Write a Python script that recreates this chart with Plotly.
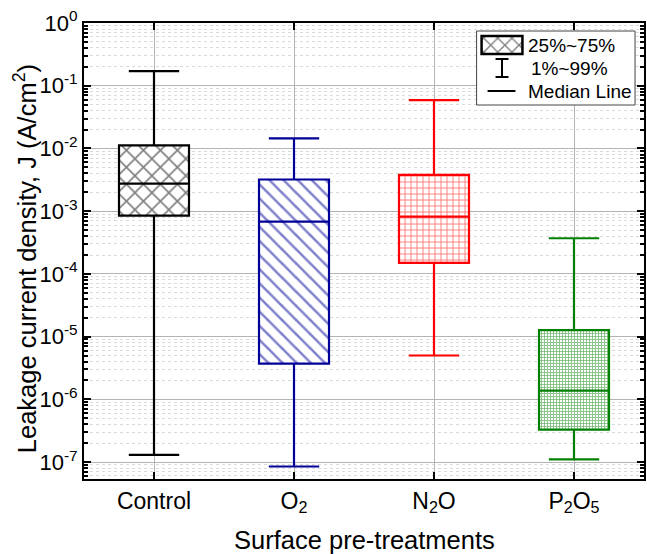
import plotly.graph_objects as go

# ---- data ----
categories = ["Control", "O<sub>2</sub>", "N<sub>2</sub>O", "P<sub>2</sub>O<sub>5</sub>"]
p01 = [1.3e-7, 8.5e-8, 5.0e-6, 1.1e-7]      # 1% whisker
q25 = [8.5e-4, 3.7e-6, 1.5e-4, 3.3e-7]      # 25%
q50 = [2.75e-3, 6.8e-4, 8.2e-4, 1.38e-6]    # median
q75 = [1.12e-2, 3.2e-3, 3.8e-3, 1.27e-5]    # 75%
p99 = [1.71e-1, 1.45e-2, 5.9e-2, 3.7e-4]    # 99% whisker
ytick_vals = [1e0, 1e-1, 1e-2, 1e-3, 1e-4, 1e-5, 1e-6, 1e-7]
ytick_text = ["10<sup>0</sup>", "10<sup>-1</sup>", "10<sup>-2</sup>", "10<sup>-3</sup>",
              "10<sup>-4</sup>", "10<sup>-5</sup>", "10<sup>-6</sup>", "10<sup>-7</sup>"]
colors = ["#000000", "#000099", "#ff0000", "#008000"]
patterns = ["x", "\\", "+", "+"]
pat_sizes = [12, 10, 6, 3]
pat_solid = [0.25, 0.25, 0.3, 0.5]

FONT = "Liberation Sans, Arial"
W, H = 647, 554
L, R, T, B = 84, 646, 23, 479

fig = go.Figure()
xs = list(range(len(categories)))

# pattern-filled boxes
for i in xs:
    fig.add_trace(go.Bar(
        x=[i], y=[q75[i] - q25[i]], base=[q25[i]], width=0.5,
        marker=dict(color="white", line=dict(width=0),
                    pattern=dict(shape=patterns[i], fgcolor=colors[i], bgcolor="white",
                                 size=pat_sizes[i], solidity=pat_solid[i], fillmode="overlay")),
        showlegend=False, hoverinfo="skip"))

# box outline, median, whiskers and caps
for i in xs:
    fig.add_trace(go.Box(
        x=[i], q1=[q25[i]], median=[q50[i]], q3=[q75[i]],
        lowerfence=[p01[i]], upperfence=[p99[i]], width=0.5,
        line=dict(color=colors[i], width=2.2), fillcolor="rgba(0,0,0,0)",
        boxpoints=False, showlegend=False, hoverinfo="skip", whiskerwidth=0))
    fig.add_trace(go.Scatter(
        x=[i, i], y=[p01[i], p99[i]], mode="markers",
        marker=dict(symbol="line-ew", size=36, line=dict(width=2.2, color=colors[i])),
        showlegend=False, hoverinfo="skip"))

# ---- manual legend ----
def px(x):
    return (x - L) / (R - L)

def py(y):
    return (B - y) / (B - T)

LX0, LX1, LY0, LY1 = 478, 637, 31, 105   # legend box in pixels

def lx(x):
    return (x - LX0) / (LX1 - LX0)

def ly(y):
    return (LY1 - y) / (LY1 - LY0)

# white background of the legend box (own subplot so it sits above the grid)
fig.add_trace(go.Bar(x=[0.5], y=[1], base=[0], width=1, xaxis="x2", yaxis="y2",
                     marker=dict(color="white", line=dict(width=0)),
                     showlegend=False, hoverinfo="skip"))
# patterned swatch
fig.add_trace(go.Bar(x=[(lx(483) + lx(524)) / 2], y=[ly(36) - ly(54)], base=[ly(54)],
                     width=lx(524) - lx(483), xaxis="x2", yaxis="y2",
                     marker=dict(color="white", line=dict(color="black", width=2.5),
                                 pattern=dict(shape="x", fgcolor="black", size=10, solidity=0.25)),
                     showlegend=False, hoverinfo="skip"))
fig.add_shape(type="rect", xref="paper", yref="paper",
              x0=px(LX0), x1=px(LX1), y0=py(LY1), y1=py(LY0),
              line=dict(color="#444", width=1), fillcolor="rgba(0,0,0,0)", layer="above")
# I-beam
ibx = px(503.5)
fig.add_shape(type="line", xref="paper", yref="paper", x0=ibx, x1=ibx, y0=py(77), y1=py(59),
              line=dict(color="black", width=2))
fig.add_shape(type="line", xref="paper", yref="paper", x0=px(497), x1=px(510), y0=py(59), y1=py(59),
              line=dict(color="black", width=2))
fig.add_shape(type="line", xref="paper", yref="paper", x0=px(497), x1=px(510), y0=py(77), y1=py(77),
              line=dict(color="black", width=2))
# median symbol
fig.add_shape(type="line", xref="paper", yref="paper", x0=px(489), x1=px(517), y0=py(91), y1=py(91),
              line=dict(color="black", width=2))
leg_texts = ["25%~75%", "1%~99%", "Median Line"]
leg_y = [45, 68.5, 91]
leg_x = [528, 531, 528]
for t, yy, xx in zip(leg_texts, leg_y, leg_x):
    fig.add_annotation(text=t, xref="paper", yref="paper", x=px(xx), y=py(yy),
                       xanchor="left", yanchor="middle", showarrow=False,
                       font=dict(family=FONT, size=19, color="black"))

# axis titles as annotations for exact placement
fig.add_annotation(text="Surface pre-treatments", xref="paper", yref="paper",
                   x=px(366), y=py(540), xanchor="center", yanchor="middle", showarrow=False,
                   font=dict(family=FONT, size=25.5, color="black"))
fig.add_annotation(text="Leakage current density, J (A/cm<sup>2</sup>)", xref="paper", yref="paper",
                   x=px(25), y=py(259), xanchor="center", yanchor="middle", showarrow=False,
                   textangle=-90, font=dict(family=FONT, size=25.5, color="black"))

axis_common = dict(showline=True, linecolor="black", linewidth=2, mirror="ticks",
                   ticks="inside", tickcolor="black", tickwidth=2,
                   tickfont=dict(family=FONT, size=22, color="black"),
                   showgrid=True, gridcolor="#b4b4b4", gridwidth=1, zeroline=False)

fig.update_layout(
    width=W, height=H,
    margin=dict(l=L, r=W - R, t=T, b=H - B),
    paper_bgcolor="white", plot_bgcolor="white",
    barmode="overlay", boxmode="overlay",
    font=dict(family=FONT, color="black"),
    xaxis=dict(axis_common, range=[-0.5, 3.5], tickvals=xs, ticktext=categories, ticklen=7,
               tickfont=dict(family=FONT, size=23, color="black")),
    yaxis=dict(axis_common, type="log", range=[-7.27, 0], tickvals=ytick_vals,
               ticktext=ytick_text, ticklen=7,
               minor=dict(ticks="inside", ticklen=4, tickcolor="black", dtick="D1",
                          showgrid=True, gridcolor="#dadada", griddash="dot", gridwidth=1)),
    xaxis2=dict(domain=[px(LX0), px(LX1)], anchor="y2", range=[0, 1], visible=False,
                fixedrange=True),
    yaxis2=dict(domain=[py(LY1), py(LY0)], anchor="x2", range=[0, 1], visible=False,
                fixedrange=True),
)

fig.write_html("out.html")
